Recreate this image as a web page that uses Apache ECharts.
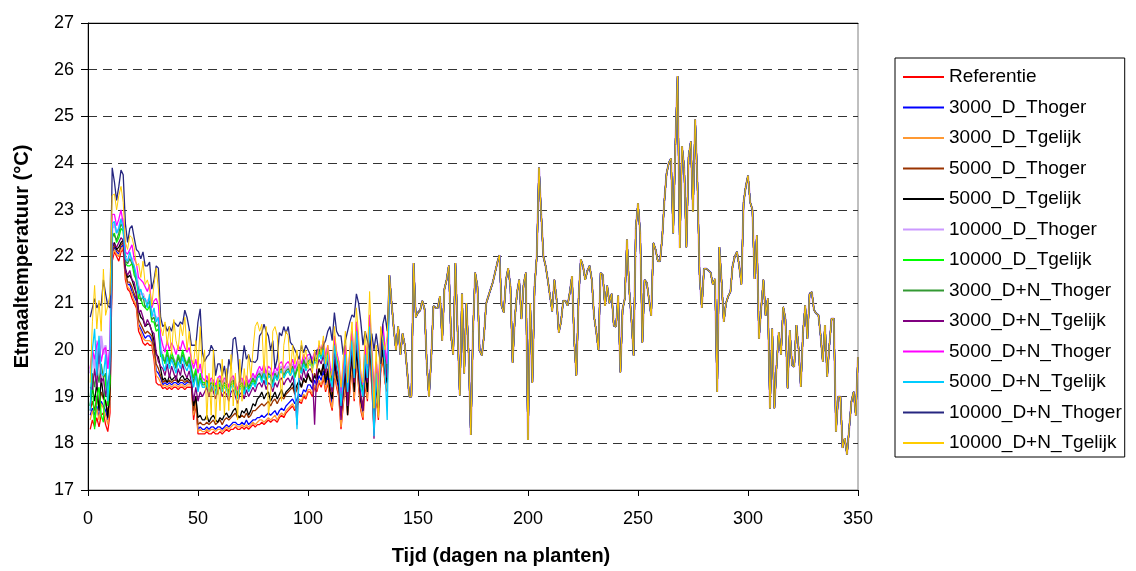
<!DOCTYPE html>
<html>
<head>
<meta charset="utf-8">
<title>Etmaaltemperatuur</title>
<script src="https://cdn.jsdelivr.net/npm/echarts@6/dist/echarts.min.js"></script>
<style>
  html, body { margin: 0; padding: 0; background: #fff; }
  #chart { width: 1136px; height: 571px; }
</style>
</head>
<body>
<div id="chart"></div>
<script>
// x: dagen 1..350. Tot dag 136 lopen de behandelingen uiteen, daarna vallen ze samen
const dayCount = 350
const days = Array.from({ length: dayCount }, (_, i) => i + 1)

const seriesNames = [
  "Referentie", "3000_D_Thoger", "3000_D_Tgelijk", "5000_D_Thoger", "5000_D_Tgelijk",
  "10000_D_Thoger", "10000_D_Tgelijk", "3000_D+N_Thoger", "3000_D+N_Tgelijk",
  "5000_D+N_Thoger", "5000_D+N_Tgelijk", "10000_D+N_Thoger", "10000_D+N_Tgelijk"
]
const seriesColors = [
  "#ff0000", "#0000ff", "#ff9933", "#993300", "#000000",
  "#cc99ff", "#00ff00", "#339933", "#800080",
  "#ff00ff", "#00ccff", "#262680", "#ffcc00"
]

// dag 1-136, per behandeling
const earlyReferentie = [
  18.3, 18.5, 18.35, 18.55, 18.35, 18.6, 18.65, 18.4, 18.25, 18.65,
  21.9, 22.1, 22.0, 21.9, 22.1, 22.15, 21.5,
  21.3, 21.25, 21.1, 21.0, 20.9, 20.4, 20.3, 20.15, 20.1, 20.15, 20.1, 20.1, 19.8, 19.3, 19.25, 19.25,
  19.17, 19.2, 19.15, 19.2, 19.15, 19.2, 19.2, 19.15, 19.2, 19.2, 19.15, 19.2, 19.2, 19.2,
  18.5, 18.85, 18.2, 18.2, 18.2,
  18.2, 18.25, 18.2, 18.2, 18.25, 18.2, 18.2, 18.25, 18.2, 18.25,
  18.3, 18.25, 18.3, 18.3, 18.35, 18.3, 18.3, 18.35, 18.3, 18.35, 18.3, 18.35, 18.4, 18.35, 18.4,
  18.4, 18.45, 18.4, 18.45, 18.5, 18.45, 18.5, 18.5, 18.45, 18.55, 18.6, 18.55, 18.65,
  18.7, 18.75, 18.8, 18.7, 18.8, 18.9, 18.85, 19.0, 18.95, 19.1,
  19.1, 19.0, 19.2, 19.1, 19.3, 19.2, 19.4, 19.1, 19.3, 18.9, 18.7, 19.5, 19.2, 19.0, 18.3, 18.8, 19.3, 18.6,
  19.1, 19.6, 18.9, 19.8, 19.2, 18.7, 18.5, 19.3, 18.9, 20.0, 19.2, 18.3, 19.0, 18.5, 19.5, 19.8, 19.3, 19.1
]
const early3000DThoger = [
  18.6, 18.75, 18.6, 18.8, 18.55, 18.9, 18.8, 18.7, 18.5, 18.85,
  22.05, 22.2, 22.1, 22.05, 22.2, 22.25, 21.65,
  21.4, 21.4, 21.25, 21.15, 21.05, 20.55, 20.45, 20.35, 20.25, 20.3, 20.3, 20.2, 19.95, 19.55, 19.5, 19.4,
  19.25, 19.3, 19.25, 19.3, 19.25, 19.3, 19.3, 19.25, 19.3, 19.3, 19.25, 19.3, 19.3, 19.3,
  18.65, 18.95, 18.3, 18.35, 18.3,
  18.3, 18.35, 18.3, 18.35, 18.35, 18.3, 18.35, 18.35, 18.3, 18.35,
  18.4, 18.35, 18.4, 18.45, 18.45, 18.4, 18.4, 18.45, 18.4, 18.5, 18.4, 18.45, 18.5, 18.5, 18.55,
  18.55, 18.6, 18.55, 18.6, 18.65, 18.6, 18.65, 18.7, 18.6, 18.7, 18.75, 18.7, 18.8,
  18.85, 18.9, 18.95, 18.85, 18.95, 19.05, 19.0, 19.15, 19.1, 19.25,
  19.25, 19.15, 19.35, 19.25, 19.45, 19.35, 19.55, 19.25, 19.45, 19.05, 18.85, 19.65, 19.35, 19.15, 18.45, 18.95, 19.45, 18.75,
  19.25, 19.75, 19.05, 19.95, 19.35, 18.85, 18.65, 19.45, 19.05, 20.1, 19.35, 18.45, 19.15, 18.65, 19.65, 19.95, 19.45, 19.25
]
const early3000DTgelijk = [
  18.5, 18.7, 18.5, 18.75, 18.5, 18.85, 18.75, 18.6, 18.4, 18.8,
  22.0, 22.15, 22.05, 22.0, 22.15, 22.2, 21.6,
  21.35, 21.3, 21.2, 21.05, 20.95, 20.5, 20.4, 20.25, 20.2, 20.2, 20.2, 20.15, 19.9, 19.45, 19.4, 19.3,
  19.22, 19.25, 19.2, 19.25, 19.2, 19.25, 19.25, 19.2, 19.25, 19.25, 19.2, 19.25, 19.25, 19.25,
  18.6, 18.9, 18.25, 18.3, 18.25,
  18.25, 18.3, 18.25, 18.3, 18.3, 18.25, 18.3, 18.3, 18.25, 18.3,
  18.35, 18.3, 18.35, 18.4, 18.4, 18.35, 18.35, 18.4, 18.35, 18.4, 18.35, 18.4, 18.45, 18.4, 18.45,
  18.5, 18.5, 18.45, 18.5, 18.55, 18.5, 18.55, 18.6, 18.5, 18.6, 18.65, 18.6, 18.7,
  18.75, 18.8, 18.85, 18.75, 18.85, 18.95, 18.9, 19.05, 19.0, 19.15,
  19.15, 19.05, 19.25, 19.15, 19.35, 19.25, 19.45, 19.15, 19.35, 18.95, 18.75, 19.55, 19.25, 19.05, 18.35, 18.85, 19.35, 18.65,
  19.15, 19.65, 18.95, 19.85, 19.25, 18.75, 18.55, 19.35, 18.95, 20.05, 19.25, 18.35, 19.05, 18.55, 19.55, 19.85, 19.35, 19.15
]
const early5000DThoger = [
  18.7, 18.9, 18.7, 19.0, 18.75, 19.1, 18.95, 18.9, 18.65, 19.0,
  22.1, 22.25, 22.15, 22.1, 22.25, 22.3, 21.7,
  21.45, 21.45, 21.35, 21.2, 21.1, 20.65, 20.55, 20.45, 20.35, 20.4, 20.35, 20.3, 20.05, 19.7, 19.6, 19.45,
  19.3, 19.35, 19.3, 19.35, 19.3, 19.35, 19.35, 19.3, 19.35, 19.35, 19.3, 19.35, 19.3, 19.3,
  18.7, 19.0, 18.4, 18.45, 18.4,
  18.4, 18.45, 18.4, 18.45, 18.5, 18.4, 18.45, 18.5, 18.4, 18.5,
  18.55, 18.5, 18.55, 18.6, 18.65, 18.55, 18.55, 18.6, 18.55, 18.65, 18.55, 18.6, 18.7, 18.7, 18.75,
  18.8, 18.85, 18.8, 18.85, 18.9, 18.8, 18.9, 18.95, 18.85, 18.95, 19.0, 18.95, 19.05,
  19.1, 19.15, 19.2, 19.05, 19.15, 19.3, 19.2, 19.35, 19.3, 19.45,
  19.4, 19.3, 19.5, 19.4, 19.6, 19.5, 19.7, 19.4, 19.6, 19.2, 19.0, 19.8, 19.5, 19.3, 18.6, 19.1, 19.6, 18.9,
  19.4, 19.9, 19.2, 20.1, 19.5, 19.0, 18.8, 19.6, 19.2, 20.2, 19.5, 18.6, 19.3, 18.8, 19.8, 20.1, 19.6, 19.4
]
const early5000DTgelijk = [
  18.8, 19.2, 18.9, 19.3, 18.7, 19.4, 19.0, 18.9, 18.55, 19.2,
  22.2, 22.3, 22.15, 22.2, 22.3, 22.35, 21.75,
  21.55, 21.6, 21.5, 21.35, 21.2, 20.85, 20.7, 20.65, 20.5, 20.55, 20.55, 20.4, 20.2, 19.9, 19.85, 19.6,
  19.35, 19.4, 19.3, 19.45, 19.35, 19.4, 19.45, 19.3, 19.4, 19.45, 19.35, 19.4, 19.35, 19.3,
  18.8, 19.0, 18.55, 18.6, 18.5,
  18.5, 18.6, 18.45, 18.55, 18.6, 18.5, 18.45, 18.55, 18.5, 18.6,
  18.65, 18.55, 18.6, 18.7, 18.75, 18.6, 18.55, 18.7, 18.65, 18.75, 18.6, 18.7, 18.85, 18.8, 18.95,
  19.0, 19.1, 18.95, 19.05, 19.1, 18.9, 19.0, 19.1, 18.95, 19.05, 19.15, 19.0, 19.1,
  19.15, 19.2, 19.3, 19.1, 19.25, 19.35, 19.2, 19.4, 19.3, 19.5,
  19.35, 19.3, 19.45, 19.35, 19.6, 19.45, 19.7, 19.3, 19.55, 19.1, 18.95, 19.8, 19.4, 19.25, 18.6, 19.1, 19.5, 18.6,
  19.4, 19.9, 19.1, 20.0, 19.5, 18.9, 18.7, 19.6, 19.1, 20.2, 19.5, 18.6, 19.3, 18.75, 19.7, 20.0, 19.5, 19.3
]
const early10000DThoger = [
  19.5, 20.0, 19.6, 20.2, 19.7, 20.3, 19.9, 20.1, 19.6, 20.0,
  22.6, 22.7, 22.5, 22.6, 22.8, 22.8, 22.0,
  21.85, 22.0, 21.95, 21.75, 21.6, 21.35, 21.2, 21.2, 21.05, 21.05, 21.1, 20.75, 20.75, 20.7, 20.65, 20.05,
  19.85, 19.8, 19.95, 19.8, 19.9, 19.8, 19.7, 19.9, 19.75, 19.95, 19.8, 19.7, 19.85, 19.6,
  19.35, 19.55, 19.2, 19.45, 19.3,
  19.3, 19.4, 19.25, 19.35, 19.3, 19.2, 19.35, 19.4, 19.25, 19.35,
  19.3, 19.2, 19.35, 19.4, 19.25, 19.1, 19.3, 19.35, 19.2, 19.4, 19.25, 19.35, 19.45, 19.35, 19.5,
  19.55, 19.45, 19.6, 19.4, 19.55, 19.5, 19.35, 19.55, 19.45, 19.6, 19.65, 19.5, 19.6,
  19.65, 19.55, 19.7, 19.5, 19.65, 19.75, 19.6, 19.85, 19.7, 19.8,
  19.85, 19.75, 19.9, 19.85, 20.05, 19.95, 20.15, 19.8, 20.05, 19.6, 19.4, 20.25, 19.9, 19.7, 19.0, 19.5, 20.05, 19.3,
  19.85, 20.35, 19.6, 20.55, 19.95, 19.4, 19.2, 20.05, 19.6, 20.7, 19.9, 18.95, 19.7, 19.1, 20.1, 20.5, 19.95, 19.65
]
const early10000DTgelijk = [
  18.8, 19.4, 18.3, 19.0, 19.2, 18.6, 18.45, 19.5, 18.8, 19.3,
  22.4, 22.5, 22.3, 22.4, 22.6, 22.55, 21.85,
  21.8, 21.8, 21.85, 21.6, 21.5, 21.1, 21.1, 20.95, 20.9, 20.85, 20.95, 20.6, 20.6, 20.4, 20.45, 19.85,
  19.9, 19.7, 20.0, 19.75, 19.95, 19.8, 19.65, 19.9, 19.75, 20.0, 19.8, 19.7, 19.85, 19.6,
  19.4, 19.6, 19.2, 19.5, 19.3,
  19.3, 19.2, 19.35, 19.1, 19.3, 19.25, 19.05, 19.3, 19.15, 19.25,
  19.2, 19.05, 19.25, 19.3, 19.15, 19.0, 19.2, 19.25, 19.1, 19.3, 19.15, 19.25, 19.35, 19.25, 19.4,
  19.45, 19.35, 19.5, 19.3, 19.45, 19.4, 19.25, 19.45, 19.35, 19.5, 19.55, 19.4, 19.5,
  19.55, 19.45, 19.6, 19.4, 19.55, 19.65, 19.5, 19.75, 19.6, 19.7,
  19.75, 19.65, 19.8, 19.75, 19.95, 19.85, 20.05, 19.7, 19.95, 19.5, 19.3, 20.15, 19.8, 19.6, 18.9, 19.4, 19.95, 19.2,
  19.75, 20.25, 19.5, 20.45, 19.85, 19.3, 19.1, 19.95, 19.5, 20.6, 19.8, 18.8, 19.6, 19.0, 20.0, 20.4, 19.85, 19.55
]
const early3000DNThoger = [
  19.0, 19.5, 19.2, 19.6, 19.3, 19.7, 19.4, 19.5, 19.1, 19.6,
  22.5, 22.45, 22.35, 22.5, 22.7, 22.6, 21.9,
  21.85, 21.95, 21.85, 21.75, 21.45, 21.3, 21.05, 21.15, 20.9, 21.0, 21.05, 20.65, 20.7, 20.5, 20.55, 19.95,
  19.8, 19.75, 19.9, 19.7, 19.85, 19.75, 19.6, 19.85, 19.7, 19.9, 19.75, 19.65, 19.8, 19.55,
  19.3, 19.5, 19.15, 19.4, 19.25,
  19.25, 19.35, 19.2, 19.3, 19.25, 19.1, 19.3, 19.35, 19.2, 19.3,
  19.25, 19.1, 19.3, 19.35, 19.2, 19.05, 19.25, 19.3, 19.15, 19.35, 19.2, 19.3, 19.4, 19.3, 19.45,
  19.5, 19.4, 19.55, 19.35, 19.5, 19.45, 19.3, 19.5, 19.4, 19.55, 19.6, 19.45, 19.55,
  19.6, 19.5, 19.65, 19.45, 19.6, 19.7, 19.55, 19.8, 19.65, 19.75,
  19.8, 19.7, 19.85, 19.8, 20.0, 19.9, 20.1, 19.75, 20.0, 19.55, 19.35, 20.2, 19.85, 19.65, 18.95, 19.45, 20.0, 19.25,
  19.8, 20.3, 19.55, 20.5, 19.9, 19.35, 19.15, 20.0, 19.55, 20.65, 19.85, 18.9, 19.65, 19.05, 20.05, 20.45, 19.9, 19.6
]
const early3000DNTgelijk = [
  19.2, 19.15, 19.6, 19.2, 20.1, 19.3, 19.4, 19.0, 19.3, 19.5,
  22.3, 22.25, 22.2, 22.3, 22.4, 22.35, 21.7,
  21.6, 21.7, 21.5, 21.45, 21.2, 20.8, 20.85, 20.7, 20.5, 20.65, 20.55, 20.4, 20.35, 19.95, 19.75, 19.65,
  19.6, 19.45, 19.7, 19.4, 19.65, 19.5, 19.35, 19.6, 19.45, 19.7, 19.5, 19.4, 19.55, 19.3,
  18.9, 19.2, 18.9, 19.1, 19.0,
  19.1, 19.2, 19.0, 19.25, 19.1, 18.95, 19.15, 19.2, 19.0, 19.1,
  19.05, 18.9, 19.1, 19.15, 19.0, 18.85, 19.05, 19.1, 18.95, 19.15, 19.0, 19.1, 19.2, 19.1, 19.25,
  19.3, 19.2, 19.35, 19.15, 19.3, 19.25, 19.1, 19.3, 19.2, 19.35, 19.4, 19.25, 19.35,
  19.4, 19.3, 19.45, 19.2, 18.4, 19.5, 19.35, 19.6, 19.4, 19.55,
  19.6, 19.5, 18.4, 19.6, 19.8, 19.7, 19.9, 19.5, 19.8, 19.3, 19.1, 20.0, 19.6, 19.4, 18.5, 19.2, 19.8, 18.8,
  19.6, 20.1, 19.3, 20.3, 19.7, 19.0, 18.7, 19.8, 19.3, 20.4, 19.6, 18.1, 19.4, 18.8, 19.9, 20.2, 19.7, 19.4
]
const early5000DNThoger = [
  19.6, 20.0, 19.8, 20.1, 20.2, 19.75, 20.0, 20.05, 19.6, 20.1,
  22.9, 22.9, 22.66, 22.8, 23.0, 22.7, 22.1,
  22.05, 22.15, 22.25, 21.95, 21.85, 21.55, 21.5, 21.45, 21.35, 21.25, 21.4, 20.9, 21.05, 21.1, 20.95, 20.3,
  20.1, 19.95, 20.2, 20.0, 20.15, 20.05, 19.9, 20.1, 20.0, 20.2, 20.05, 19.95, 20.05, 19.8,
  19.6, 19.8, 19.5, 19.7, 19.4,
  19.35, 19.45, 19.3, 19.4, 19.35, 19.25, 19.4, 19.45, 19.3, 19.4,
  19.35, 19.2, 19.4, 19.45, 19.3, 19.15, 19.35, 19.4, 19.25, 19.45, 19.3, 19.4, 19.5, 19.4, 19.55,
  19.65, 19.55, 19.7, 19.5, 19.65, 19.6, 19.45, 19.65, 19.55, 19.7, 19.75, 19.6, 19.7,
  19.75, 19.65, 19.8, 19.6, 19.75, 19.85, 19.7, 19.9, 19.8, 19.9,
  19.9, 19.8, 19.95, 19.9, 20.1, 20.0, 20.2, 19.85, 20.1, 19.65, 19.45, 20.3, 19.95, 19.75, 19.05, 19.55, 20.1, 19.35,
  19.9, 20.4, 19.65, 20.6, 20.0, 19.45, 19.25, 20.1, 19.65, 20.75, 19.95, 19.0, 19.75, 19.15, 20.15, 20.55, 20.0, 19.7
]
const early5000DNTgelijk = [
  18.7, 20.0, 20.45, 19.45, 20.3, 19.5, 19.45, 19.9, 18.9, 19.8,
  22.7, 22.75, 22.5, 22.6, 22.8, 22.6, 21.95,
  21.9, 22.1, 21.9, 21.8, 21.55, 21.2, 21.3, 21.1, 21.1, 20.9, 21.2, 20.7, 20.9, 20.6, 20.7, 20.0,
  19.7, 19.55, 19.85, 19.6, 19.8, 19.65, 19.5, 19.75, 19.6, 19.85, 19.65, 19.55, 19.7, 19.45,
  19.2, 19.45, 19.1, 19.35, 19.2,
  19.2, 19.3, 19.1, 19.25, 19.2, 19.05, 19.25, 19.3, 19.1, 19.2,
  19.15, 19.0, 19.2, 19.25, 19.1, 18.95, 19.15, 19.2, 19.05, 19.25, 19.1, 19.2, 19.3, 19.2, 19.4,
  19.45, 19.3, 19.5, 19.25, 19.45, 19.4, 19.2, 19.45, 19.35, 19.5, 19.55, 19.4, 19.5,
  19.55, 19.45, 19.6, 19.35, 18.3, 19.6, 19.5, 19.7, 19.55, 19.65,
  19.7, 19.6, 19.75, 19.7, 19.9, 19.8, 20.0, 19.6, 19.9, 19.4, 19.2, 20.1, 19.75, 19.5, 18.8, 19.35, 19.9, 19.1,
  19.7, 20.2, 19.4, 20.4, 19.8, 19.2, 19.0, 19.9, 19.4, 20.5, 19.7, 18.15, 19.5, 18.8, 19.9, 20.3, 19.6, 18.5
]
const early10000DNThoger = [
  20.7, 20.9, 21.1, 20.9, 21.0, 20.95, 21.5, 21.2, 20.95, 20.9,
  23.9, 23.6, 23.2, 23.5, 23.85, 23.75, 22.7,
  22.3, 22.6, 22.66, 22.4, 22.15, 22.1, 21.95, 22.1, 21.8, 21.8, 21.88, 21.3, 21.5, 21.8, 21.75, 20.7,
  20.5, 20.55, 20.4, 20.5, 20.4, 20.6, 20.55, 20.5, 20.6, 20.55, 20.85, 20.7, 20.45, 20.1,
  20.1, 20.1, 20.6, 20.88, 19.95,
  19.75, 19.85, 19.9, 20.1, 20.0, 19.45, 19.7, 19.7, 19.45, 19.66,
  19.3, 19.8, 19.6, 20.23, 20.27, 19.9, 19.3, 19.66, 20.1, 19.8, 19.9, 19.75, 19.75, 19.73, 19.8,
  20.3, 20.37, 20.55, 20.4, 20.3, 20.0, 20.2, 19.6, 19.8, 20.37, 20.3, 20.5, 20.35,
  20.5, 20.16, 20.1, 20.0, 19.9, 19.8, 20.1, 19.94, 20.1, 20.0,
  19.9, 19.7, 19.8, 20.0, 20.0, 20.0, 20.1, 20.2, 20.4, 20.5, 20.2, 20.8, 20.4, 20.3, 20.3, 19.9, 20.2, 20.4,
  20.6, 20.75, 20.7, 21.2, 21.0, 20.6, 20.1, 20.4, 20.2, 20.0, 20.35, 20.0, 20.35, 20.0, 19.7, 20.55, 20.75, 20.4
]
const early10000DNTgelijk = [
  19.3, 20.6, 21.38, 20.45, 21.06, 20.4, 21.73, 20.74, 20.95, 21.2,
  23.3, 23.34, 23.0, 23.3, 23.5, 23.16, 22.3,
  22.15, 22.45, 22.4, 22.2, 21.8, 21.85, 21.55, 21.9, 21.4, 21.5, 21.3, 20.95, 21.4, 21.75, 21.3, 20.5,
  20.3, 20.6, 20.1, 20.5, 19.9, 20.65, 20.2, 20.0, 20.55, 20.3, 20.7, 20.0, 20.4, 19.8,
  19.7, 20.2, 19.6, 20.5, 19.5,
  20.0, 18.5, 19.5, 18.6, 20.0, 18.45, 19.4, 18.7, 19.8, 18.6,
  19.6, 18.7, 19.9, 18.8, 19.5, 18.5, 19.8, 18.9, 19.6, 19.2, 19.9, 19.4, 20.0, 20.5, 20.6,
  20.4, 20.55, 19.5, 20.5, 18.6, 19.0, 20.4, 20.5, 20.3, 19.6, 18.9, 20.1, 20.4,
  20.3, 19.5, 20.1, 19.7, 20.0, 19.4, 20.2, 19.8, 20.0, 19.6,
  19.8, 19.5, 20.0, 19.6, 20.2, 19.9, 20.3, 19.7, 20.1, 19.4, 19.6, 20.5, 19.9, 19.7, 19.2, 19.8, 20.4, 19.3,
  20.0, 20.6, 19.6, 20.9, 20.3, 19.5, 19.3, 20.4, 19.7, 21.25, 20.0, 18.75, 20.1, 18.6, 20.5, 20.2, 20.0, 20.3
]

// dag 137-350: alle behandelingen (vrijwel) gelijk
const lateAll = [
  21.6, 21.0, 20.45, 20.0, 20.5, 19.9, 20.35, 20.1, 19.6, 19.0, 19.0, 21.86, 20.7, 20.8,
  20.85, 21.05, 20.87, 19.7, 19.0, 19.8, 20.94, 20.9, 20.9, 21.15,
  20.2, 21.3, 21.5, 21.8, 20.3, 19.9, 21.86, 20.4, 19.03, 21.2,
  19.5, 21.0, 19.95, 18.18, 20.4, 21.65, 21.36, 20.0, 19.88, 20.3,
  21.0, 21.15, 21.3, 21.45, 21.65, 21.86, 22.03, 20.94, 20.8, 21.5,
  21.75, 21.36, 19.73, 20.66, 21.22, 21.5, 20.66, 21.4, 21.65, 18.07,
  21.0, 19.3, 21.36, 22.0, 23.9, 22.9, 22.0, 21.8, 21.5, 21.15,
  20.83, 21.5, 21.08, 20.37, 20.6, 21.05, 21.05, 20.95, 21.23, 21.58,
  20.2, 19.45, 21.1, 21.94, 21.8, 21.5, 21.7, 21.8, 21.5, 20.73,
  20.4, 20.0, 21.65, 21.6, 20.94, 21.37, 21.0, 21.2, 20.52, 20.5,
  21.16, 19.52, 20.87, 21.1, 22.36, 21.3, 20.66, 19.88, 22.6, 23.14,
  22.5, 20.16, 21.5, 21.44, 21.08, 20.73, 22.29, 22.15, 21.9, 21.9,
  22.4, 23.2, 23.78, 24.0, 24.1, 22.5, 24.4, 25.86, 22.18, 24.36,
  23.9, 22.2, 24.14, 24.46, 22.96, 24.93, 23.6, 21.6, 20.9, 21.74,
  21.74, 21.7, 21.66, 21.4, 21.52, 19.1, 22.2, 21.45, 20.6, 21.0,
  21.15, 21.24, 21.8, 22.0, 22.1, 21.8, 21.4, 23.16, 23.5, 23.73,
  23.16, 23.0, 21.52, 22.45, 20.24, 20.9, 21.5, 20.74, 21.1, 18.75,
  20.45, 18.75, 19.67, 20.38, 19.9, 20.92, 20.67, 19.18, 20.42, 19.67,
  19.64, 20.53, 20.03, 19.21, 20.38, 20.95, 20.24, 21.2, 21.24, 20.85,
  20.78, 20.75, 20.31, 19.75, 20.53, 19.43, 20.1, 20.67, 20.67, 18.25,
  19.0, 19.0, 17.9, 18.11, 17.76, 18.32, 18.89, 19.1, 18.6, 19.85
]

const earlyBySeries = [
  earlyReferentie, early3000DThoger, early3000DTgelijk, early5000DThoger, early5000DTgelijk,
  early10000DThoger, early10000DTgelijk, early3000DNThoger, early3000DNTgelijk,
  early5000DNThoger, early5000DNTgelijk, early10000DNThoger, early10000DNTgelijk
]

const yTicks = { min: 17, max: 27, step: 1 }
const xTicks = { min: 0, max: 350, step: 50 }

const fontFamily = "'Liberation Sans', Arial, sans-serif"
// de bovenste (gele) lijn iets dunner, zodat de lijnen eronder er nog langs schemeren
const lineWidths = [1.3, 1.3, 1.3, 1.3, 1.3, 2.2, 1.3, 1.3, 1.3, 1.3, 1.3, 1.3, 1.0]

const chart = echarts.init(document.getElementById("chart"), null, { renderer: "canvas" })

const series = seriesNames.map((name, idx) => {
  const values = earlyBySeries[idx].concat(lateAll)
  return {
    name,
    type: "line",
    data: days.map((d, i) => [d, values[i]]),
    symbol: "none",
    showSymbol: false,
    color: seriesColors[idx],
    lineStyle: { width: lineWidths[idx], color: seriesColors[idx] },
    emphasis: { disabled: true },
    animation: false
  }
})

chart.setOption({
  animation: false,
  grid: {
    left: 88,
    right: 278,
    top: 23,
    bottom: 80,
    show: true,
    borderColor: "#808080",
    borderWidth: 1
  },
  legend: {
    orient: "vertical",
    left: 895,
    top: 58,
    padding: [9, 3, 4, 8],
    itemGap: 10.5,
    itemWidth: 41,
    itemHeight: 2,
    icon: "rect",
    borderColor: "#000",
    borderWidth: 1,
    backgroundColor: "#fff",
    textStyle: { fontFamily, fontSize: 19, color: "#000", lineHeight: 20 },
    data: seriesNames
  },
  xAxis: [
    {
      type: "value",
      min: xTicks.min,
      max: xTicks.max,
      interval: xTicks.step,
      name: "Tijd (dagen na planten)",
      nameLocation: "middle",
      nameGap: 56,
      nameTextStyle: { fontFamily, fontSize: 20, fontWeight: "bold", color: "#000", padding: [0, 0, 0, 56] },
      axisLine: { show: true, lineStyle: { color: "#000", width: 1 } },
      axisTick: { show: true, inside: false, length: 6, lineStyle: { color: "#000" } },
      axisLabel: { fontFamily, fontSize: 18, color: "#000", margin: 20 },
      splitLine: { show: false }
    },
    {
      type: "value",
      position: "top",
      min: xTicks.min,
      max: xTicks.max,
      axisLine: { show: true, lineStyle: { color: "#000", width: 1 } },
      axisTick: { show: false },
      axisLabel: { show: false },
      splitLine: { show: false }
    }
  ],
  yAxis: {
    type: "value",
    min: yTicks.min,
    max: yTicks.max,
    interval: yTicks.step,
    name: "Etmaaltemperatuur (°C)",
    nameLocation: "middle",
    nameGap: 56,
    nameTextStyle: { fontFamily, fontSize: 20, fontWeight: "bold", color: "#000" },
    axisLine: { show: true, lineStyle: { color: "#000", width: 1 } },
    axisTick: { show: true, inside: false, length: 7, lineStyle: { color: "#000" } },
    axisLabel: { fontFamily, fontSize: 18, color: "#000", margin: 14 },
    splitLine: {
      show: true,
      showMinLine: false,
      showMaxLine: false,
      lineStyle: { color: "#333", width: 1, type: [9, 6] }
    }
  },
  series
})
</script>
</body>
</html>
